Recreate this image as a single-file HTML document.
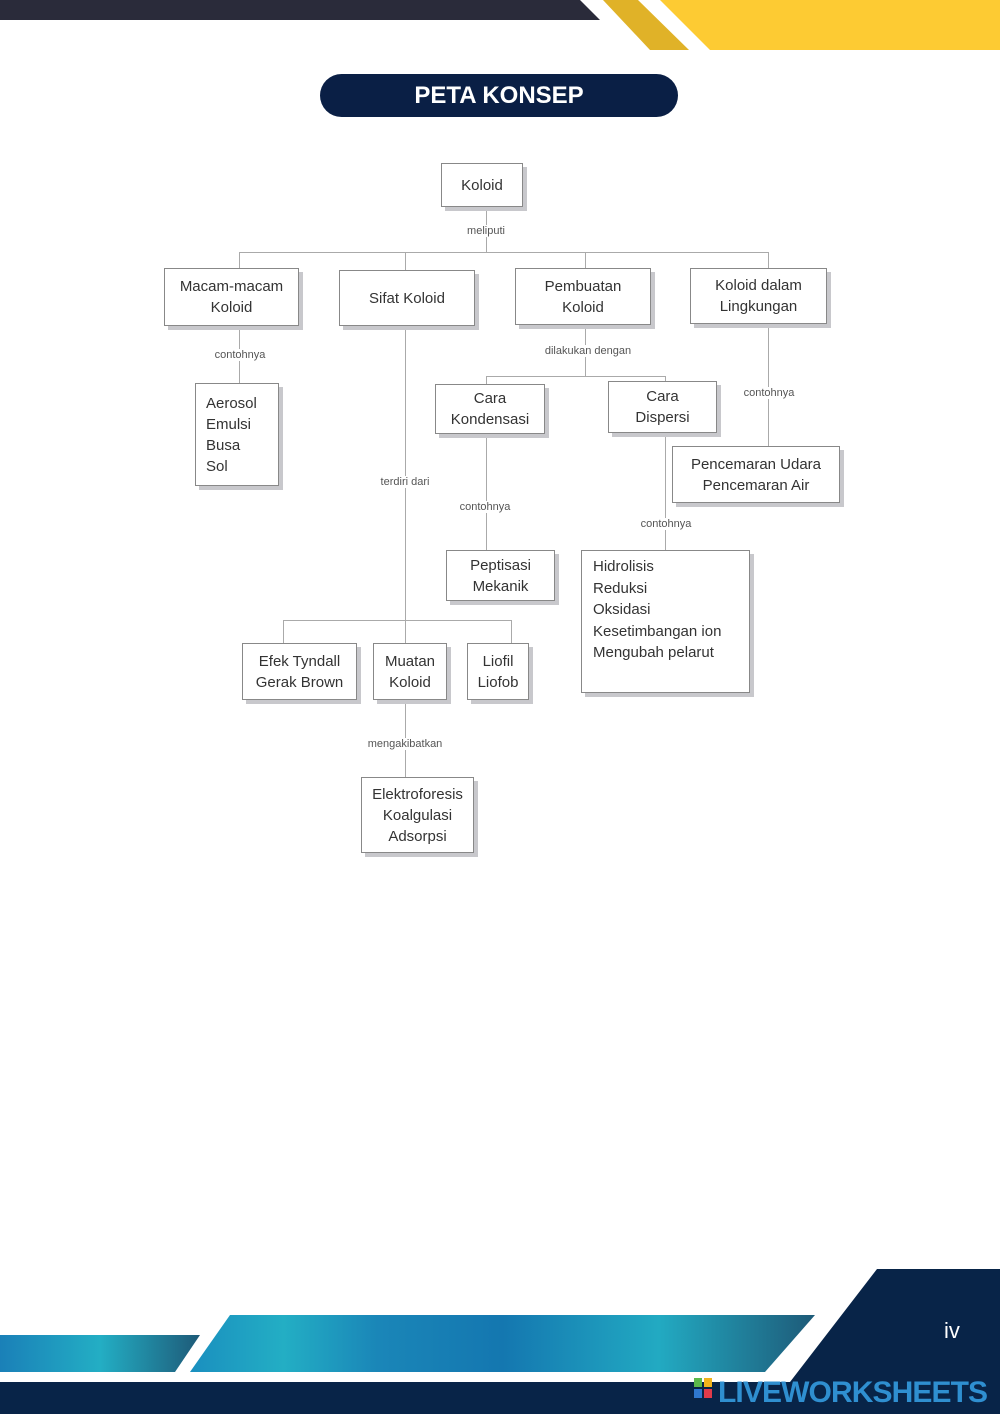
<!DOCTYPE html>
<html><head><meta charset="utf-8"><style>
body{margin:0;width:1000px;height:1414px;position:relative;overflow:hidden;background:#fff;font-family:"Liberation Sans",sans-serif}
.b{position:absolute;border:1px solid #888;background:#fff;box-shadow:4px 4px 0 #c8c8cc;color:#333;font-size:15px;line-height:21px;display:flex;flex-direction:column;justify-content:center;align-items:center;text-align:center;box-sizing:border-box}
.l{position:absolute;background:#aaa}
.t{position:absolute;font-size:11px;color:#555;background:#fff;transform:translateX(-50%);white-space:nowrap;padding:0 2px}
</style></head><body>
<svg style="position:absolute;left:0;top:0" width="1000" height="1414">
<polygon points="0,0 580,0 600,20 0,20" fill="#2a2b3a"/>
<polygon points="603,0 638,0 689,50 650,50" fill="#e0b228"/>
<polygon points="660,0 1000,0 1000,50 710,50" fill="#fdcb33"/>
<defs><linearGradient id="g" x1="0" x2="1"><stop offset="0" stop-color="#1a8fbf"/><stop offset=".15" stop-color="#23aec4"/><stop offset=".3" stop-color="#1a86b8"/><stop offset=".5" stop-color="#1477b0"/><stop offset=".75" stop-color="#22aac2"/><stop offset="1" stop-color="#1e5a78"/></linearGradient>
<linearGradient id="g2" x1="0" x2="1"><stop offset="0" stop-color="#1a80b8"/><stop offset=".5" stop-color="#23aec4"/><stop offset="1" stop-color="#1e5a78"/></linearGradient></defs>
<polygon points="230,1315 815,1315 765,1372 190,1372" fill="url(#g)"/>
<polygon points="0,1335 200,1335 175,1372 0,1372" fill="url(#g2)"/>
<polygon points="877,1269 1000,1269 1000,1414 0,1414 0,1382 790,1382" fill="#082448"/>
<text x="944" y="1338" font-family="Liberation Sans" font-size="22" fill="#fff">iv</text>
<text x="718" y="1402" font-family="Liberation Sans" font-size="30" font-weight="bold" fill="#2f8fd0" textLength="270">LIVEWORKSHEETS</text>
<rect x="694" y="1378" width="8" height="9" fill="#5bb84a"/><rect x="704" y="1378" width="8" height="9" fill="#f2b31b"/>
<rect x="694" y="1389" width="8" height="9" fill="#2f78d0"/><rect x="704" y="1389" width="8" height="9" fill="#e03a4a"/>
</svg>
<div style="position:absolute;left:320px;top:74px;width:358px;height:43px;border-radius:22px;background:#0a1f45;color:#fff;font-weight:bold;font-size:24px;line-height:43px;text-align:center">PETA KONSEP</div>

<!-- lines -->
<div class="l" style="left:486px;top:207px;width:1px;height:45px"></div>
<div class="l" style="left:239px;top:252px;width:530px;height:1px"></div>
<div class="l" style="left:239px;top:252px;width:1px;height:16px"></div>
<div class="l" style="left:405px;top:252px;width:1px;height:18px"></div>
<div class="l" style="left:585px;top:252px;width:1px;height:16px"></div>
<div class="l" style="left:768px;top:252px;width:1px;height:16px"></div>
<div class="l" style="left:239px;top:326px;width:1px;height:57px"></div>
<div class="l" style="left:405px;top:326px;width:1px;height:317px"></div>
<div class="l" style="left:283px;top:620px;width:229px;height:1px"></div>
<div class="l" style="left:283px;top:620px;width:1px;height:23px"></div>
<div class="l" style="left:511px;top:620px;width:1px;height:23px"></div>
<div class="l" style="left:405px;top:700px;width:1px;height:77px"></div>
<div class="l" style="left:585px;top:325px;width:1px;height:51px"></div>
<div class="l" style="left:486px;top:376px;width:180px;height:1px"></div>
<div class="l" style="left:486px;top:376px;width:1px;height:8px"></div>
<div class="l" style="left:665px;top:376px;width:1px;height:5px"></div>
<div class="l" style="left:486px;top:434px;width:1px;height:116px"></div>
<div class="l" style="left:665px;top:433px;width:1px;height:117px"></div>
<div class="l" style="left:768px;top:324px;width:1px;height:122px"></div>

<div class="t" style="left:486px;top:225px">meliputi</div>
<div class="t" style="left:240px;top:349px">contohnya</div>
<div class="t" style="left:405px;top:476px">terdiri dari</div>
<div class="t" style="left:405px;top:738px">mengakibatkan</div>
<div class="t" style="left:588px;top:345px">dilakukan dengan</div>
<div class="t" style="left:485px;top:501px">contohnya</div>
<div class="t" style="left:666px;top:518px">contohnya</div>
<div class="t" style="left:769px;top:387px">contohnya</div>

<div class="b" style="left:441px;top:163px;width:82px;height:44px">Koloid</div>
<div class="b" style="left:164px;top:268px;width:135px;height:58px">Macam-macam<br>Koloid</div>
<div class="b" style="left:339px;top:270px;width:136px;height:56px">Sifat Koloid</div>
<div class="b" style="left:515px;top:268px;width:136px;height:57px">Pembuatan<br>Koloid</div>
<div class="b" style="left:690px;top:268px;width:137px;height:56px">Koloid dalam<br>Lingkungan</div>
<div class="b" style="left:195px;top:383px;width:84px;height:103px;align-items:flex-start;padding-left:10px;text-align:left">Aerosol<br>Emulsi<br>Busa<br>Sol</div>
<div class="b" style="left:435px;top:384px;width:110px;height:50px">Cara<br>Kondensasi</div>
<div class="b" style="left:608px;top:381px;width:109px;height:52px">Cara<br>Dispersi</div>
<div class="b" style="left:672px;top:446px;width:168px;height:57px">Pencemaran Udara<br>Pencemaran Air</div>
<div class="b" style="left:446px;top:550px;width:109px;height:51px">Peptisasi<br>Mekanik</div>
<div class="b" style="left:581px;top:550px;width:169px;height:143px;justify-content:flex-start;align-items:flex-start;text-align:left;padding:5px 0 0 11px;line-height:21.5px">Hidrolisis<br>Reduksi<br>Oksidasi<br>Kesetimbangan ion<br>Mengubah pelarut</div>
<div class="b" style="left:242px;top:643px;width:115px;height:57px">Efek Tyndall<br>Gerak Brown</div>
<div class="b" style="left:373px;top:643px;width:74px;height:57px">Muatan<br>Koloid</div>
<div class="b" style="left:467px;top:643px;width:62px;height:57px">Liofil<br>Liofob</div>
<div class="b" style="left:361px;top:777px;width:113px;height:76px">Elektroforesis<br>Koalgulasi<br>Adsorpsi</div>
</body></html>
